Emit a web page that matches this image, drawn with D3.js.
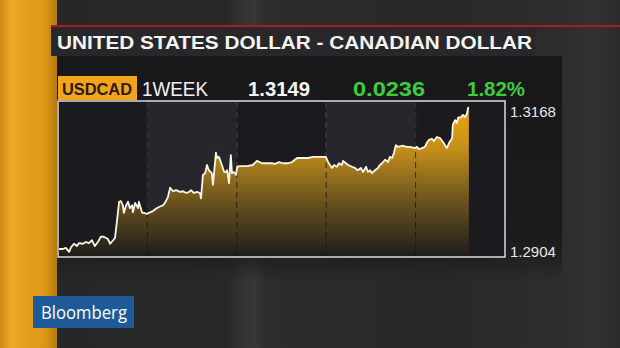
<!DOCTYPE html>
<html>
<head>
<meta charset="utf-8">
<script src="https://cdn.jsdelivr.net/npm/d3@7"></script>
<style>
    body { margin: 0; background: #262626; }
    svg { display: block; }
</style>
</head>
<body>
<svg id="chart" width="620" height="348"></svg>
<script>
var title = 'UNITED STATES DOLLAR - CANADIAN DOLLAR';
var ticker = 'USDCAD';
var period = '1WEEK';
var lastPrice = '1.3149';
var netChange = '0.0236';
var pctChange = '1.82%';
var brand = 'Bloomberg';
var yTicks = [1.2904, 1.3168];
// session boundaries, in hours from the start of the week
var dayStarts = [0, 24, 48, 72, 96, 120];

var hours = [
    0.3, 1.3, 2.1, 3.0, 3.5, 4.3, 5.1, 5.6, 6.7, 7.5, 8.3, 9.1, 9.9, 10.7, 11.5, 12.3, 13.4, 14.0,
    14.8, 15.3, 15.8, 16.4, 16.9, 17.4, 17.7, 18.3, 18.8, 19.3, 19.9, 20.1, 20.7, 21.5, 21.7, 22.6,
    23.1, 23.9,
    24.4, 25.5, 26.3, 27.1, 28.2, 28.7, 29.5, 30.1, 30.9, 31.7, 32.8, 33.6, 34.4, 35.2, 35.7, 36.5,
    37.3, 38.1, 38.4, 38.9, 39.5, 40.0, 40.5, 41.3, 41.6, 42.4, 42.7, 43.2, 44.0, 44.6, 45.1, 45.4,
    45.9, 46.4, 46.7, 47.2, 47.8,
    48.1, 48.9, 50.7, 52.3, 53.4, 54.8, 56.1, 57.4, 58.3, 59.3, 60.4, 61.7, 62.8, 64.2, 65.5, 67.1,
    68.5, 69.8, 71.4, 71.9,
    72.5, 73.0, 73.6, 74.1, 74.9, 75.4, 76.2, 76.5, 77.3, 77.9, 78.9, 79.7, 80.5, 81.3, 81.9, 82.7,
    83.2, 83.8, 84.3, 85.1, 85.9, 86.4, 87.0, 87.8, 88.6, 89.1, 89.7, 90.2, 90.7, 91.3, 92.3, 93.7,
    94.5, 95.8,
    96.4, 96.9, 97.7, 98.5, 99.1, 99.6, 100.4, 100.9, 101.7, 102.6, 103.4, 103.9, 104.4, 105.0,
    105.8, 106.0, 106.6, 107.1, 107.4, 108.2, 108.7, 109.3, 109.8, 110.1, 110.3
];

var rates = [
    1.2916, 1.2916, 1.2918, 1.2911, 1.2919, 1.2925, 1.2921, 1.2926, 1.2925, 1.2928, 1.2926, 1.2931,
    1.2921, 1.2928, 1.2937, 1.2937, 1.2933, 1.2925, 1.2931, 1.2935, 1.2962, 1.2997, 1.2998, 1.2991,
    1.2978, 1.2991, 1.2997, 1.2986, 1.2991, 1.2979, 1.2995, 1.2986, 1.2997, 1.2978, 1.2978, 1.2976,
    1.2978, 1.2981, 1.2985, 1.2988, 1.2991, 1.2995, 1.3005, 1.3021, 1.3015, 1.3017, 1.3014, 1.3015,
    1.3012, 1.3014, 1.3017, 1.3012, 1.3014, 1.3012, 1.3003, 1.3043, 1.3046, 1.3060, 1.3051, 1.3046,
    1.3026, 1.3081, 1.3072, 1.3074, 1.3060, 1.3048, 1.3048, 1.3051, 1.3029, 1.3077, 1.3046, 1.3048,
    1.3043,
    1.3057, 1.3058, 1.3058, 1.3060, 1.3067, 1.3063, 1.3063, 1.3063, 1.3062, 1.3065, 1.3063, 1.3063,
    1.3065, 1.3072, 1.3072, 1.3072, 1.3074, 1.3074, 1.3074, 1.3074,
    1.3065, 1.3060, 1.3055, 1.3060, 1.3057, 1.3063, 1.3060, 1.3067, 1.3063, 1.3060, 1.3057, 1.3055,
    1.3051, 1.3055, 1.3048, 1.3057, 1.3048, 1.3051, 1.3046, 1.3051, 1.3055, 1.3060, 1.3063, 1.3069,
    1.3065, 1.3074, 1.3072, 1.3081, 1.3094, 1.3091, 1.3093, 1.3091, 1.3091, 1.3089,
    1.3091, 1.3087, 1.3089, 1.3091, 1.3099, 1.3103, 1.3105, 1.3101, 1.3108, 1.3106, 1.3099, 1.3094,
    1.3089, 1.3098, 1.3106, 1.3129, 1.3137, 1.3132, 1.3141, 1.3142, 1.3146, 1.3142, 1.3149, 1.3158,
    1.3159
];

var plot = {left: 58, right: 505, top: 102, bottom: 256};
var font = '"Liberation Sans", Arial, sans-serif';

var svg = d3.select('#chart');
var defs = svg.append('defs');

function gradient(id, x2, y2, stops, units) {
    var g = defs.append('linearGradient')
        .attr('id', id)
        .attr('x1', 0).attr('y1', 0)
        .attr('x2', x2).attr('y2', y2);
    if (units) {
        g.attr('gradientUnits', 'userSpaceOnUse')
            .attr('x1', units[0]).attr('y1', units[1])
            .attr('x2', units[2]).attr('y2', units[3]);
    }
    stops.forEach(function (s) {
        g.append('stop')
            .attr('offset', s[0])
            .attr('stop-color', s[1])
            .attr('stop-opacity', s[2] === undefined ? 1 : s[2]);
    });
}

gradient('bg', 1, 0, [
    [0, '#262626'], [0.37, '#292929'], [0.39, '#333333'], [0.41, '#383838'], [0.43, '#2c2c2c'],
    [0.7, '#282828'], [0.9, '#2d2d2d'], [0.96, '#323232'], [1, '#2b2b2b']]);
gradient('stripe', 1, 0, [
    [0, '#c98a12'], [0.2, '#eea82a'], [0.45, '#e6a01e'], [0.8, '#d99615'], [1, '#b27a10']]);
gradient('panelFade', 0, 1, [
    [0, '#18181b'], [0.8, '#1b1b1d'], [0.9, '#1e1e1f', 0.8], [1, '#222222', 0]]);
gradient('gold', 0, 1, [
    [0, '#f0a914'], [0.3, '#c48f1a'], [0.65, '#6a521e'], [1, '#1f1c1b']],
    [0, plot.top, 0, plot.bottom]);

// backdrop
svg.append('rect').attr('width', 620).attr('height', 348).attr('fill', 'url(#bg)');
svg.append('rect').attr('width', 57).attr('height', 348).attr('fill', 'url(#stripe)');

svg.append('rect')
    .attr('x', 51).attr('y', 25).attr('width', 569).attr('height', 2)
    .attr('fill', '#a81d1d');
svg.append('rect')
    .attr('x', 51).attr('y', 27).attr('width', 484).attr('height', 29)
    .attr('fill', '#28282a');
svg.append('text')
    .attr('x', 57).attr('y', 49)
    .attr('font-family', font).attr('font-weight', 'bold').attr('font-size', 19)
    .attr('fill', '#f4f4f4')
    .attr('textLength', 475).attr('lengthAdjust', 'spacingAndGlyphs')
    .text(title);

svg.append('rect')
    .attr('x', 57).attr('y', 56).attr('width', 505).attr('height', 226)
    .attr('fill', 'url(#panelFade)');

// header row
svg.append('rect')
    .attr('x', 58).attr('y', 76).attr('width', 79).attr('height', 24)
    .attr('fill', '#f4a31d');
svg.append('text')
    .attr('x', 62).attr('y', 95)
    .attr('font-family', font).attr('font-weight', 'bold').attr('font-size', 17)
    .attr('fill', '#2a1c06')
    .attr('textLength', 70).attr('lengthAdjust', 'spacingAndGlyphs')
    .text(ticker);

var header = [
    {t: period, x: 142, w: 66, c: '#f2f2f2', b: 'normal'},
    {t: lastPrice, x: 248, w: 62, c: '#f6f6f6', b: 'bold'},
    {t: netChange, x: 353, w: 72, c: '#3fcb3c', b: 'bold'},
    {t: pctChange, x: 467, w: 58, c: '#3fcb3c', b: 'bold'}
];
svg.append('g').selectAll('text').data(header).enter().append('text')
    .attr('x', function (d) { return d.x; })
    .attr('y', 96)
    .attr('font-family', font)
    .attr('font-weight', function (d) { return d.b; })
    .attr('font-size', 19.5)
    .attr('fill', function (d) { return d.c; })
    .attr('textLength', function (d) { return d.w; })
    .attr('lengthAdjust', 'spacingAndGlyphs')
    .text(function (d) { return d.t; });

// chart
var x = d3.scaleLinear().domain([0, 120]).range([plot.left, plot.right]);
var y = d3.scaleLinear().domain([yTicks[0], yTicks[1]]).range([plot.bottom, plot.top]);

var points = hours.map(function (h, i) { return [h, rates[i]]; });

var sessions = d3.pairs(dayStarts);
svg.append('g').selectAll('rect').data(sessions).enter().append('rect')
    .attr('x', function (d) { return x(d[0]); })
    .attr('y', plot.top)
    .attr('width', function (d) { return x(d[1]) - x(d[0]); })
    .attr('height', plot.bottom - plot.top)
    .attr('fill', function (d, i) { return i % 2 ? '#26262c' : '#1b1b1f'; });

var inner = dayStarts.slice(1, -1);
svg.append('g').selectAll('line').data(inner).enter().append('line')
    .attr('x1', function (d) { return x(d); }).attr('x2', function (d) { return x(d); })
    .attr('y1', plot.top).attr('y2', plot.bottom)
    .attr('stroke', '#7a7a7a').attr('stroke-width', 1)
    .attr('stroke-dasharray', '6,4');

var area = d3.area()
    .x(function (d) { return x(d[0]); })
    .y0(plot.bottom)
    .y1(function (d) { return y(d[1]); });
var line = d3.line()
    .x(function (d) { return x(d[0]); })
    .y(function (d) { return y(d[1]); });

svg.append('path').datum(points)
    .attr('d', area)
    .attr('fill', 'url(#gold)');

svg.append('g').selectAll('line').data(inner).enter().append('line')
    .attr('x1', function (d) { return x(d); }).attr('x2', function (d) { return x(d); })
    .attr('y1', plot.top).attr('y2', plot.bottom)
    .attr('stroke', '#141210').attr('stroke-opacity', 0.75).attr('stroke-width', 1)
    .attr('stroke-dasharray', '6,4');

svg.append('path').datum(points)
    .attr('d', line)
    .attr('fill', 'none')
    .attr('stroke', '#fbf6e8')
    .attr('stroke-width', 1.8)
    .attr('stroke-linejoin', 'round');

svg.append('rect')
    .attr('x', plot.left).attr('y', plot.top - 1)
    .attr('width', plot.right - plot.left).attr('height', plot.bottom - plot.top + 2)
    .attr('fill', 'none')
    .attr('stroke', '#dcdcdc').attr('stroke-width', 1.5);

var axis = d3.axisRight(y).tickValues(yTicks).tickSize(0).tickPadding(5)
    .tickFormat(d3.format('.4f'));
var gAxis = svg.append('g')
    .attr('transform', 'translate(' + plot.right + ',0)')
    .call(axis);
gAxis.select('.domain').remove();
gAxis.selectAll('text')
    .attr('font-family', font)
    .attr('font-size', 15)
    .attr('fill', '#e8e8e8')
    .attr('dy', function (d) { return d === yTicks[1] ? '0.95em' : '0em'; });

// logo
svg.append('rect')
    .attr('x', 33).attr('y', 296).attr('width', 101).attr('height', 32)
    .attr('fill', '#1d5a97');
svg.append('text')
    .attr('x', 41).attr('y', 319)
    .attr('font-family', '"Open Sans", "Noto Sans", sans-serif').attr('font-size', 19)
    .attr('fill', '#ffffff')
    .attr('textLength', 86).attr('lengthAdjust', 'spacingAndGlyphs')
    .text(brand);
</script>
</body>
</html>
